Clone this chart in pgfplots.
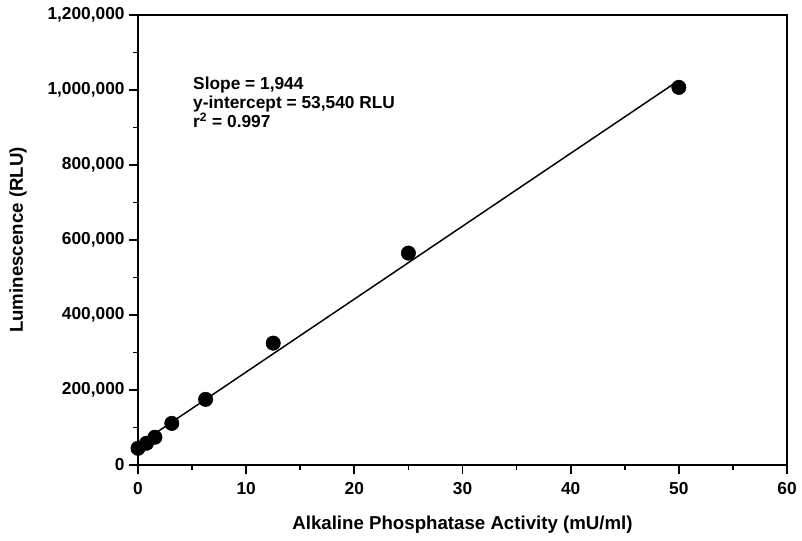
\documentclass[border=0pt]{standalone}
\usepackage{fontspec}
\setmainfont{Liberation Sans}
\usepackage{pgfplots}
\pgfplotsset{compat=1.18}

\begin{document}
\begin{tikzpicture}
\begin{axis}[
  scale only axis,
  width=486.75pt, height=337.5pt,
  xmin=0, xmax=60, ymin=0, ymax=1200000,
  xtick={0,10,...,60},
  ytick={0,200000,400000,600000,800000,1000000,1200000},
  minor x tick num=1, minor y tick num=1,
  tick align=outside, xtick pos=bottom, ytick pos=left,
  major tick length=6.5pt, minor tick length=3.5pt,
  axis line style={line width=1.5pt},
  tick style={line width=1.3pt, black},
  scaled y ticks=false,
  /pgf/number format/assume math mode=true,
  yticklabel style={/pgf/number format/fixed, /pgf/number format/1000 sep={,}},
  xticklabel style={yshift=-3pt},
  tick label style={font=\fontsize{13}{15}\selectfont\bfseries},
  xlabel={Alkaline Phosphatase Activity (mU/ml)},
  ylabel={Luminescence (RLU)},
  xlabel style={font=\fontsize{14}{16}\selectfont\bfseries,
    at={(axis description cs:0.5,-0.133)}, anchor=center},
  ylabel style={font=\fontsize{14}{16}\selectfont\bfseries,
    at={(axis description cs:-0.185,0.5)}, anchor=center},
  clip=false,
]
% fitted line
\addplot[black, line width=1.1pt] coordinates {(0,53540) (50,1025540)};
% measured points
\addplot[only marks, mark=*, mark size=5.4pt, black] coordinates {
  (0,44500)
  (0.78125,58000)
  (1.5625,74000)
  (3.125,111000)
  (6.25,175000)
  (12.5,325000)
  (25,565000)
  (50,1007000)
};
\node[anchor=north west, align=left, inner sep=0pt,
  font=\fontsize{13}{14.25}\selectfont\bfseries]
  at (axis cs:5.08,1035000)
  {Slope = 1,944\\y-intercept = 53,540 RLU\\r\textsuperscript{2} = 0.997};
\end{axis}
\pgfresetboundingbox
\path[use as bounding box]
  ([xshift=-103.5pt,yshift=-57pt]current axis.south west) rectangle
  ([xshift=11.25pt,yshift=11.25pt]current axis.north east);
\end{tikzpicture}
\end{document}
